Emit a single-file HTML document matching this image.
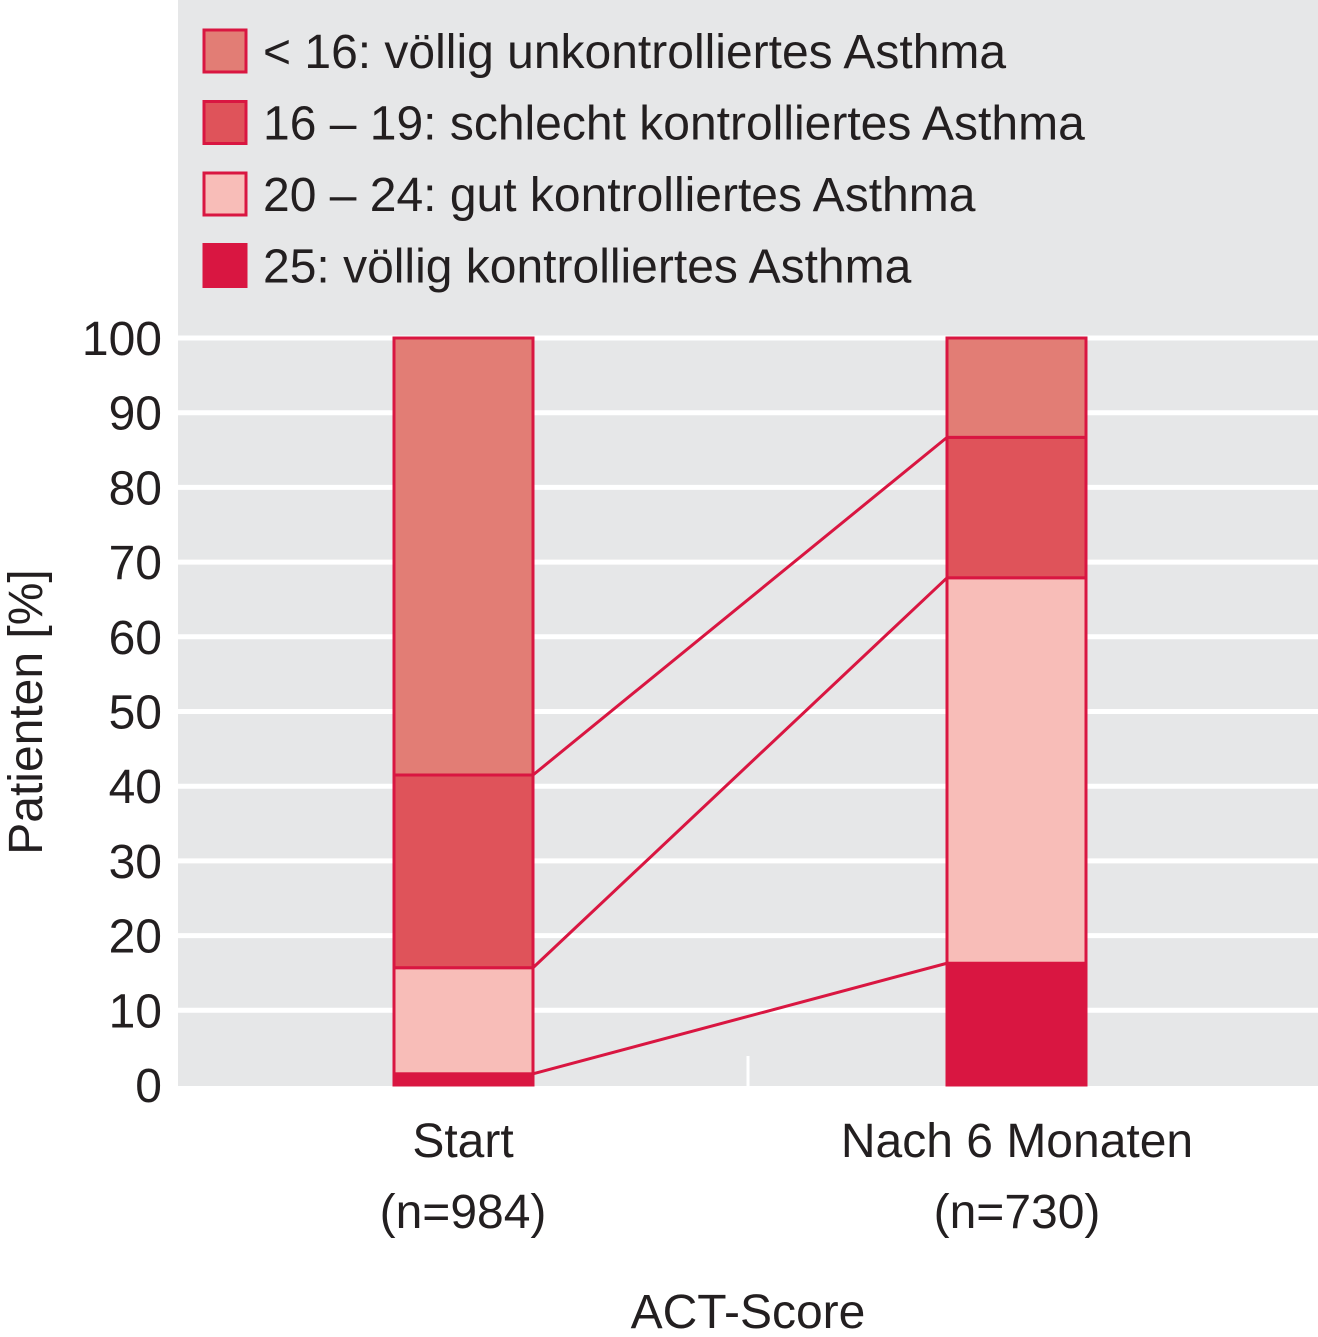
<!DOCTYPE html>
<html><head><meta charset="utf-8"><style>
body{margin:0;background:#fff;}
svg text{font-family:"Liberation Sans",sans-serif;fill:#231f20;}
</style></head><body>
<svg width="1318" height="1332" viewBox="0 0 1318 1332" xmlns="http://www.w3.org/2000/svg">
<rect x="178" y="0" width="1140" height="1086" fill="#e6e7e8"/>
<g id="grid"></g>
<line x1="748" y1="1056" x2="748" y2="1086" stroke="#fff" stroke-width="3"/>
<g id="bars"></g>
<g id="links"></g>
<g id="yticks"></g>
<g id="legend"></g>
<text x="463" y="1157" font-size="48" text-anchor="middle">Start</text>
<text x="463" y="1228" font-size="48" text-anchor="middle">(n=984)</text>
<text x="1017" y="1157" font-size="48" text-anchor="middle">Nach 6 Monaten</text>
<text x="1017" y="1228" font-size="48" text-anchor="middle">(n=730)</text>
<text x="748" y="1328" font-size="48" text-anchor="middle">ACT-Score</text>
<text transform="translate(42,712) rotate(-90)" font-size="48" text-anchor="middle">Patienten [%]</text>
</svg>
<script>
const categories=["Start","Nach 6 Monaten"];
const seriesNames=["25: völlig kontrolliertes Asthma","20 – 24: gut kontrolliertes Asthma","16 – 19: schlecht kontrolliertes Asthma","< 16: völlig unkontrolliertes Asthma"];
const v25=[1.5,16.3];
const v20=[14.2,51.6];
const v16=[25.8,18.8];
const vLow=[58.5,13.3];
const yTicks=[0,10,20,30,40,50,60,70,80,90,100];
const legendLabels=["< 16: völlig unkontrolliertes Asthma","16 – 19: schlecht kontrolliertes Asthma","20 – 24: gut kontrolliertes Asthma","25: völlig kontrolliertes Asthma"];

const NS="http://www.w3.org/2000/svg";
const colors=["#d91641","#f8bdb8","#df535a","#e27d75"];
const legendColors=["#e27d75","#df535a","#f8bdb8","#d91641"];
const y=v=>1085-v*7.47;
const barX=[394,947], barW=139;
function mk(tag,attrs,parent){const e=document.createElementNS(NS,tag);for(const k in attrs)e.setAttribute(k,attrs[k]);document.getElementById(parent).appendChild(e);return e;}
yTicks.forEach(t=>{
  if(t>0){const l=mk('line',{x1:178,x2:1318,y1:y(t),y2:y(t),stroke:'#fff','stroke-width':5},'grid');
  
  }
  const tx=mk('text',{x:162,y:y(t)+17,'font-size':48,'text-anchor':'end'},'yticks');
  tx.textContent=t;
  
  
});
const series=[v25,v20,v16,vLow];
const tops=[[],[]];
categories.forEach((c,i)=>{
  let cum=0;
  series.forEach((s,j)=>{
    const r=mk('rect',{x:barX[i],y:y(cum+s[i]),width:barW,height:s[i]*7.47,fill:colors[j],stroke:'#d91641','stroke-width':3},'bars');
    
    
    cum+=s[i];tops[i].push(cum);
  });
});
for(let j=0;j<3;j++){
  const l=mk('line',{x1:barX[0]+barW,y1:y(tops[0][j]),x2:barX[1],y2:y(tops[1][j]),stroke:'#d91641','stroke-width':3},'links');
  
  
}
legendLabels.forEach((t,i)=>{
  const yy=30+i*71.5;
  const r=mk('rect',{x:204,y:yy,width:42,height:42,fill:legendColors[i],stroke:'#d91641','stroke-width':3},'legend');
  
  
  const tx=mk('text',{x:263,y:yy+38,'font-size':48},'legend');
  tx.textContent=t;
  
  
});
</script>
</body></html>
